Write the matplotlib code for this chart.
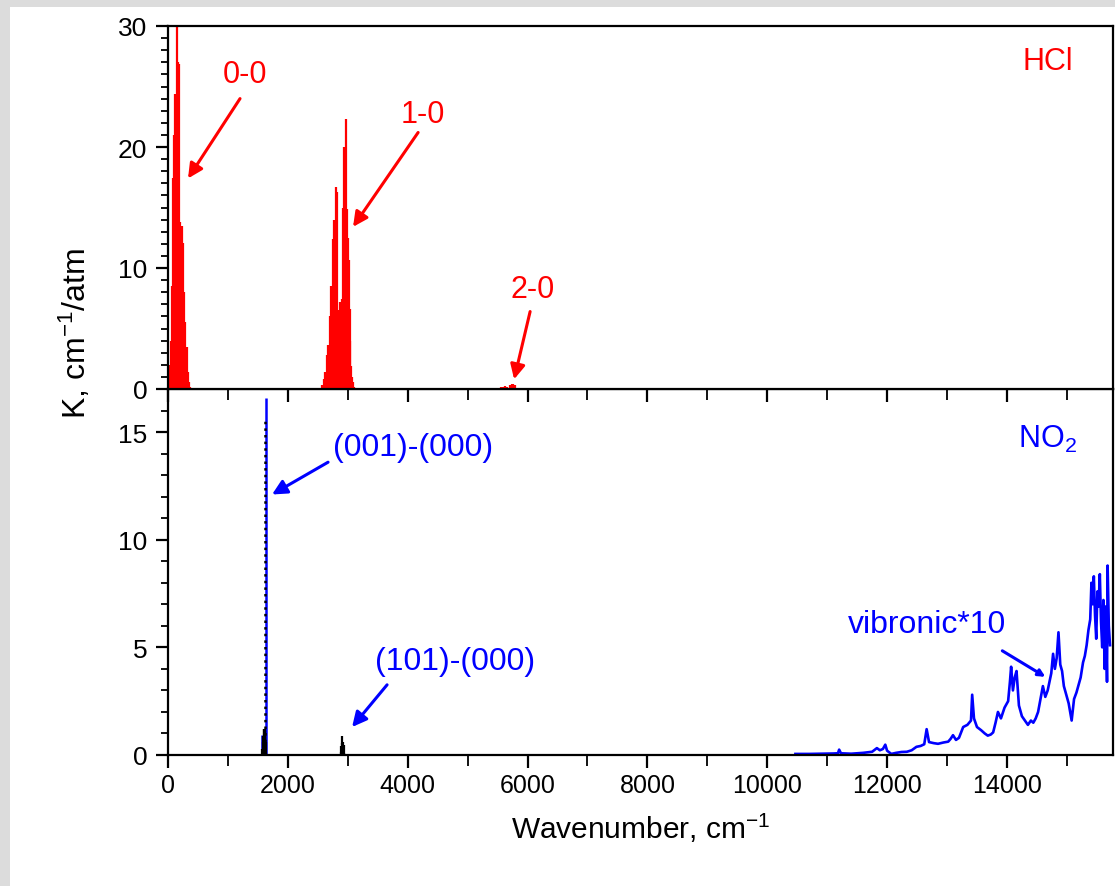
import matplotlib
matplotlib.use("Agg")
import matplotlib.pyplot as plt
from matplotlib.patches import Rectangle
from matplotlib.ticker import MultipleLocator

plt.rcParams['font.family'] = ['Liberation Sans', 'DejaVu Sans']
plt.rcParams['mathtext.fontset'] = 'custom'
plt.rcParams['mathtext.rm'] = 'Liberation Sans'
plt.rcParams['mathtext.it'] = 'Liberation Sans:italic'

# HCl rotational (0-0) band
hcl00_wn = [21, 42, 62, 83, 104, 125, 146, 166, 187, 207, 228, 248, 269, 289, 309, 330, 350, 371]
hcl00_k = [2.0, 4.0, 8.5, 17.4, 21.0, 24.4, 30.0, 27.0, 26.9, 13.8, 13.5, 12.1, 8.0, 5.5, 3.5, 1.4, 0.6, 0.2]

# HCl fundamental (1-0) band
hcl10_wn = [2540, 2570, 2599, 2626, 2652, 2677, 2703, 2727, 2752, 2775, 2799, 2821, 2843, 2865,
            2906, 2926, 2944, 2963, 2981, 2998, 3014, 3030, 3044, 3059, 3073, 3087, 3100]
hcl10_k = [0.1, 0.3, 0.8, 1.4, 2.8, 3.6, 6.0, 8.5, 12.4, 14.0, 16.7, 16.3, 6.5, 7.2,
           7.4, 15.0, 20.0, 22.3, 14.9, 12.5, 10.7, 6.6, 4.0, 1.9, 1.0, 0.6, 0.2]

# HCl overtone (2-0) band
hcl20_wn = [5470, 5510, 5550, 5590, 5630, 5665, 5690, 5710, 5740, 5765, 5790]
hcl20_k = [0.05, 0.1, 0.15, 0.2, 0.25, 0.2, 0.1, 0.3, 0.4, 0.45, 0.3]

# NO2 (001)-(000) band
no2_001_black_wn = [1570, 1580, 1590, 1598, 1605, 1612, 1618, 1624, 1642]
no2_001_black_k = [0.3, 0.6, 0.9, 1.2, 1.2, 1.2, 1.1, 1.0, 0.6]
no2_001_dot_wn = [1622]
no2_001_dot_k = [15.6]
no2_001_blue_wn = [1571, 1633]
no2_001_blue_k = [0.93, 16.6]

# NO2 (101)-(000) band
no2_101_wn = [2880, 2895, 2905, 2911, 2918, 2930, 2945]
no2_101_k = [0.15, 0.4, 0.55, 0.9, 0.6, 0.45, 0.1]

# NO2 vibronic continuum (x10)
vib_wn = [10470, 10700, 10900, 11100, 11180, 11200, 11230, 11400, 11600, 11750, 11830, 11880,
          11930, 11970, 12000, 12070, 12150, 12240, 12330, 12410, 12490, 12560, 12620, 12660,
          12700, 12780, 12850, 12940, 13020, 13060, 13100, 13150, 13200, 13270, 13340, 13400,
          13420, 13450, 13500, 13570, 13630, 13680, 13730, 13770, 13810, 13850, 13900, 13960,
          14020, 14050, 14070, 14100, 14130, 14160, 14200, 14250, 14300, 14350, 14400, 14440,
          14480, 14520, 14560, 14600, 14640, 14680, 14710, 14740, 14770, 14800, 14830, 14860,
          14890, 14920, 14950, 14990, 15030, 15080, 15120, 15160, 15190, 15230, 15270, 15300,
          15330, 15360, 15390, 15410, 15430, 15450, 15470, 15490, 15510, 15530, 15550, 15570,
          15590, 15610, 15630, 15650, 15670, 15680, 15700, 15720]
vib_k = [0.05, 0.05, 0.06, 0.07, 0.08, 0.25, 0.08, 0.06, 0.1, 0.15, 0.32, 0.22,
         0.28, 0.48, 0.2, 0.05, 0.1, 0.14, 0.15, 0.22, 0.38, 0.42, 0.5, 1.2,
         0.6, 0.55, 0.52, 0.58, 0.62, 0.75, 0.92, 0.7, 0.8, 1.3, 1.4, 1.6,
         2.8, 1.7, 1.3, 1.15, 1.0, 0.9, 0.95, 1.05, 1.5, 2.0, 1.7, 2.2,
         2.5, 3.4, 4.1, 3.0, 3.6, 3.9, 2.3, 1.8, 1.6, 1.4, 1.6, 1.5,
         1.7, 2.0, 2.6, 3.2, 2.7, 3.0, 3.4, 3.8, 4.7, 4.0, 4.5, 5.7,
         4.2, 3.9, 3.2, 2.8, 2.4, 1.6, 2.6, 2.9, 3.2, 3.6, 4.3, 4.6,
         5.1, 5.8, 6.3, 8.0, 7.0, 8.3, 6.5, 5.4, 7.6, 6.9, 8.4, 6.2,
         5.0, 7.2, 4.0, 6.9, 3.4, 8.8, 6.0, 5.1]

red = '#ff0000'
blue = '#0000ff'

fig = plt.figure(figsize=(11.15, 8.87), dpi=100, facecolor='#dcdcdc')
fig.patches.append(Rectangle((10 / 1115, 0), 1, 1 - 8 / 887, transform=fig.transFigure,
                             facecolor='white', edgecolor='none', zorder=-10))

left, right = 168 / 1115, 1113 / 1115
y0, ymid, y1 = 1 - 756 / 887, 1 - 390 / 887, 1 - 27 / 887
ax1 = fig.add_axes([left, ymid, right - left, y1 - ymid], zorder=5)
ax2 = fig.add_axes([left, y0, right - left, ymid - y0], sharex=ax1, zorder=4)

# top panel: HCl
ax1.vlines(hcl00_wn, 0, hcl00_k, color=red, lw=1.6)
ax1.vlines(hcl10_wn, 0, hcl10_k, color=red, lw=1.6)
ax1.vlines(hcl20_wn, 0, hcl20_k, color=red, lw=1.6)
ax1.set_ylim(0, 30)
ax1.yaxis.set_major_locator(MultipleLocator(10))
ax1.yaxis.set_minor_locator(MultipleLocator(1))

# bottom panel: NO2
ax2.vlines(no2_001_blue_wn, 0, no2_001_blue_k, color=blue, lw=1.8)
ax2.vlines(no2_001_dot_wn, 0, no2_001_dot_k, color='black', lw=1.8, linestyles=':')
ax2.vlines(no2_001_black_wn, 0, no2_001_black_k, color='black', lw=1.6)
ax2.vlines(no2_101_wn, 0, no2_101_k, color='black', lw=1.6)
ax2.plot(vib_wn, vib_k, color=blue, lw=1.9)
ax2.set_ylim(0, 17)
ax2.yaxis.set_major_locator(MultipleLocator(5))
ax2.yaxis.set_minor_locator(MultipleLocator(1))

ax2.set_xlim(0, 15770)
ax2.xaxis.set_major_locator(MultipleLocator(2000))
ax2.xaxis.set_minor_locator(MultipleLocator(1000))

for ax in (ax1, ax2):
    for s in ax.spines.values():
        s.set_linewidth(1.6)
    ax.tick_params(axis='both', which='major', direction='out', length=9, width=1.6,
                   labelsize=18, pad=4)
    ax.tick_params(axis='y', which='major', labelsize=19, pad=6)
    ax.tick_params(axis='both', which='minor', direction='out', length=5, width=1.3)
    ax.tick_params(axis='x', which='minor', length=8)
ax1.tick_params(axis='x', labelbottom=False)

ax2.set_xlabel('Wavenumber, cm$^{-1}$', fontsize=21.5, labelpad=10)
fig.text(75 / 1115, 1 - 334 / 887, 'K, cm$^{-1}$/atm', rotation=90, fontsize=23,
         ha='center', va='center')

# annotations, top
fs = 22
arr_r = dict(arrowstyle='-|>', color=red, lw=2.2, mutation_scale=22, shrinkA=0, shrinkB=0)
ax1.text(1285, 26.0, '0-0', color=red, fontsize=fs, ha='center', va='center')
ax1.annotate('', xy=(334, 17.4), xytext=(1202, 24.0), arrowprops=arr_r)
ax1.text(4257, 22.7, '1-0', color=red, fontsize=fs, ha='center', va='center')
ax1.annotate('', xy=(3088, 13.4), xytext=(4174, 21.2), arrowprops=arr_r)
ax1.text(6093, 8.3, '2-0', color=red, fontsize=fs, ha='center', va='center')
ax1.annotate('', xy=(5776, 0.8), xytext=(6043, 6.4), arrowprops=arr_r)
ax1.text(14674, 27.1, 'HCl', color=red, fontsize=fs, ha='center', va='center')

# annotations, bottom
arr_b = dict(arrowstyle='-|>', color=blue, lw=2.2, mutation_scale=22, shrinkA=0, shrinkB=0)
ax2.text(14674, 14.7, 'NO$_2$', color=blue, fontsize=fs, ha='center', va='center')
ax2.text(2755, 14.3, '(001)-(000)', color=blue, fontsize=23, ha='left', va='center')
ax2.annotate('', xy=(1736, 12.1), xytext=(2671, 13.6), arrowprops=arr_b)
ax2.text(3456, 4.37, '(101)-(000)', color=blue, fontsize=23, ha='left', va='center')
ax2.annotate('', xy=(3072, 1.3), xytext=(3656, 3.26), arrowprops=arr_b)
ax2.text(11352, 6.09, 'vibronic*10', color=blue, fontsize=23, ha='left', va='center')
ax2.annotate('', xy=(14641, 3.63), xytext=(13923, 4.84),
             arrowprops=dict(arrowstyle='-|>', color=blue, lw=2.2, mutation_scale=10,
                             shrinkA=0, shrinkB=0))

fig.savefig('out.png', dpi=100, facecolor=fig.get_facecolor())
